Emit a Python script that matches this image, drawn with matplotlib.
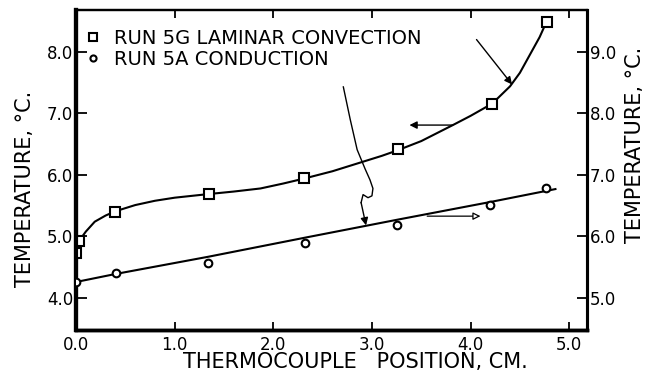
import matplotlib
matplotlib.use("Agg")
import matplotlib.pyplot as plt

# Run 5G, laminar convection (left temperature scale)
conv_x = [0.00, 0.03, 0.40, 1.35, 2.31, 3.26, 4.22, 4.77]
conv_t = [4.73, 4.92, 5.40, 5.69, 5.95, 6.42, 7.15, 8.49]

# Hand-faired curve through the convection points
conv_fit_x = [0.00, 0.05, 0.10, 0.19, 0.30, 0.40, 0.60, 0.80, 1.00, 1.35, 1.60,
              1.87, 2.10, 2.31, 2.60, 2.88, 3.10, 3.26, 3.50, 3.82, 4.00,
              4.22, 4.40, 4.50, 4.60, 4.70, 4.77]
conv_fit_t = [4.85, 4.97, 5.08, 5.24, 5.34, 5.41, 5.51, 5.58, 5.63, 5.69, 5.73,
              5.78, 5.86, 5.94, 6.06, 6.20, 6.31, 6.40, 6.55, 6.81, 6.96,
              7.16, 7.44, 7.66, 7.95, 8.24, 8.49]

# Run 5A, conduction (right temperature scale)
cond_x = [0.00, 0.41, 1.34, 2.32, 3.25, 4.20, 4.76]
cond_t = [5.26, 5.41, 5.57, 5.89, 6.19, 6.51, 6.79]

cond_fit_x = [0.00, 0.40, 1.34, 2.32, 3.25, 4.20, 4.86]
cond_fit_t = [5.26, 5.39, 5.67, 5.98, 6.27, 6.56, 6.77]

x_ticks = [0.0, 1.0, 2.0, 3.0, 4.0, 5.0]
left_ticks = [4.0, 5.0, 6.0, 7.0, 8.0]
right_ticks = [5.0, 6.0, 7.0, 8.0, 9.0]

LEFT_LIM = (3.48, 8.68)
OFFSET = 1.0  # right scale reads one degree above the left scale

fig = plt.figure(figsize=(6.52, 3.83), dpi=100)
ax = fig.add_axes([76 / 652, 53 / 383, 511 / 652, 320 / 383])
ax2 = ax.twinx()

ink = "black"

# convection data and curve
ax.plot(conv_fit_x, conv_fit_t, color=ink, lw=1.5, zorder=2)
h_conv, = ax.plot(conv_x, conv_t, ls="none", marker="s", ms=6.5, mfc="white",
                  mec=ink, mew=1.5, zorder=3, label="RUN 5G LAMINAR CONVECTION")

# conduction data and line
ax2.plot(cond_fit_x, cond_fit_t, color=ink, lw=1.5, zorder=2)
h_cond, = ax2.plot(cond_x, cond_t, ls="none", marker="o", ms=5.5, mfc="white",
                   mec=ink, mew=1.5, zorder=3, label="RUN 5A CONDUCTION")

ax.set_xlim(0.0, 5.18)
ax.set_ylim(*LEFT_LIM)
ax2.set_ylim(LEFT_LIM[0] + OFFSET, LEFT_LIM[1] + OFFSET)

ax.set_xticks(x_ticks)
ax.set_xticklabels([f"{v:.1f}" for v in x_ticks])
ax.set_yticks(left_ticks)
ax.set_yticklabels([f"{v:.1f}" for v in left_ticks])
ax2.set_yticks(right_ticks)
ax2.set_yticklabels([f"{v:.1f}" for v in right_ticks])

ax.tick_params(axis="x", which="both", direction="in", length=6, width=1.3,
               top=True, labelsize=12, pad=4)
ax.tick_params(axis="y", direction="in", length=8, width=1.3, labelsize=12, pad=2)
ax2.tick_params(axis="y", direction="in", length=7, width=1.3, labelsize=12, pad=2)

for a in (ax, ax2):
    a.spines["left"].set_linewidth(3.0)
    a.spines["bottom"].set_linewidth(2.5)
    a.spines["top"].set_linewidth(1.6)
    a.spines["right"].set_linewidth(2.2)

ax.set_xlabel("THERMOCOUPLE   POSITION, CM.", fontsize=15)
ax.set_ylabel("TEMPERATURE, °C.", fontsize=15)
ax2.set_ylabel("TEMPERATURE, °C.", fontsize=15, rotation=90)
ax.xaxis.set_label_coords(0.546, -0.10)
ax.yaxis.set_label_coords(-0.10, 0.44)
ax2.yaxis.set_label_coords(1.094, 0.578)
ax.xaxis.label.set_va("center")
ax.yaxis.label.set_va("center")
ax2.yaxis.label.set_va("center")

leg = ax2.legend(handles=[h_conv, h_cond], loc="upper left",
                 bbox_to_anchor=(0.022, 0.94), frameon=False, fontsize=14,
                 handlelength=0.6, handletextpad=0.8, labelspacing=0.1,
                 borderpad=0, borderaxespad=0, markerscale=0.8)

# pointer from the convection label to its curve
ax.annotate("", xy=(4.42, 7.47), xytext=(4.06, 8.20),
            arrowprops=dict(arrowstyle="-|>", color=ink, lw=1.0,
                            mutation_scale=11, shrinkA=0, shrinkB=0))
# convection curve reads on the left scale
ax.annotate("", xy=(3.38, 6.81), xytext=(3.82, 6.81),
            arrowprops=dict(arrowstyle="-|>", color=ink, lw=1.0,
                            mutation_scale=11, shrinkA=0, shrinkB=0))
# conduction line reads on the right scale
ax2.annotate("", xy=(4.10, 6.33), xytext=(3.56, 6.33),
             arrowprops=dict(arrowstyle="-|>", color=ink, lw=0.9, fc="white",
                             mutation_scale=11, shrinkA=0, shrinkB=0))

# wavy pointer from the conduction label down to its line
lead_x = [2.71, 2.78, 2.85, 2.93, 2.98, 3.01, 3.00, 2.96, 2.91, 2.89]
lead_t = [7.43, 6.90, 6.41, 6.10, 5.92, 5.78, 5.66, 5.63, 5.68, 5.55]
ax.plot(lead_x, lead_t, color=ink, lw=1.0, zorder=2)
ax.annotate("", xy=(2.94, 5.18), xytext=(2.89, 5.55),
            arrowprops=dict(arrowstyle="-|>", color=ink, lw=1.0,
                            mutation_scale=11, shrinkA=0, shrinkB=0))

fig.savefig("out.png", dpi=100, facecolor="white")
